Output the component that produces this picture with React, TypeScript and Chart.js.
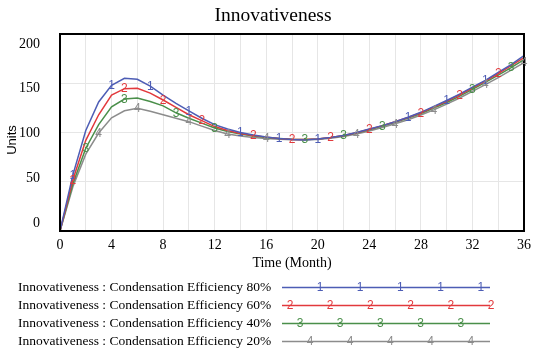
import React, { useEffect, useRef } from "react";
import { Chart, registerables } from "chart.js";

Chart.register(...registerables);

// ---- data ----
const months = [0, 1, 2, 3, 4, 5, 6, 7, 8, 9, 10, 11, 12, 13, 14, 15, 16, 17, 18, 19, 20, 21, 22, 23, 24, 25, 26, 27, 28, 29, 30, 31, 32, 33, 34, 35, 36];

const eff80 = [0, 57, 102, 131, 148, 155, 154, 147, 138, 129.5, 122, 114.5, 108, 103.5, 100, 97.5, 95.5, 94, 93, 92.5, 93.5, 95, 97, 100, 103.5, 107, 111, 115.5, 120.5, 126.5, 132.5, 139, 146, 153, 161, 169, 178];
const eff60 = [0, 52, 92, 118, 138, 144.5, 145, 140, 133, 125.5, 118, 112, 106, 102, 99, 97, 95.3, 94, 93, 92.8, 93.5, 95, 97, 99.8, 103.2, 107, 111, 115.2, 120, 125.8, 131.7, 138.3, 145.2, 152.3, 159.8, 167.8, 176];
const eff40 = [0, 48, 84, 108, 126, 134, 135, 131.5, 127, 120, 114.5, 109.5, 104.5, 101, 98.5, 96.5, 95, 94, 93.2, 93, 93.5, 94.8, 96.8, 99.5, 102.8, 106.5, 110.4, 114.6, 119.3, 124.8, 130.5, 137, 143.8, 150.8, 158.2, 165.8, 174];
const eff20 = [0, 45, 78, 99.5, 115, 122, 124.5, 121.5, 118, 114.5, 111, 106.5, 102, 98.5, 96.5, 95, 94, 93.2, 92.7, 92.6, 93, 94.2, 96, 98.5, 101.6, 105, 108.8, 113, 117.8, 123, 128.8, 135, 141.8, 148.6, 155.8, 163.3, 171];

const seriesNames = [
  "Innovativeness : Condensation Efficiency 80%",
  "Innovativeness : Condensation Efficiency 60%",
  "Innovativeness : Condensation Efficiency 40%",
  "Innovativeness : Condensation Efficiency 20%",
];
const seriesValues = [eff80, eff60, eff40, eff20];
const seriesColors = ["#4d5db5", "#e2393c", "#4a8f4a", "#8c8c8c"];
const markerTags = ["1", "2", "3", "4"];
// month indices where each series shows its number marker
const markers80 = [1, 4, 7, 10, 14, 17, 20, 27, 30, 33];
const markers60 = [1, 5, 8, 11, 15, 18, 21, 24, 28, 31, 34];
const markers40 = [2, 5, 9, 12, 19, 22, 25, 32, 35];
const markers20 = [3, 6, 10, 13, 16, 23, 26, 29, 33, 36];
const markerSets = [markers80, markers60, markers40, markers20];

const xGridTicks = [0, 2, 4, 6, 8, 10, 12, 14, 16, 18, 20, 22, 24, 26, 28, 30, 32, 34, 36];
const xLabelTicks = [0, 4, 8, 12, 16, 20, 24, 28, 32, 36];
const yTicks = [0, 50, 100, 150, 200];

const titleText = "Innovativeness";
const xTitle = "Time (Month)";
const yTitle = "Units";

const SERIF = '"Liberation Serif", "Times New Roman", serif';
const SANS = '"Liberation Sans", Arial, sans-serif';

const decorPlugin = {
  id: "decor",
  afterDatasetsDraw(chart: any) {
    const { ctx, chartArea: a } = chart;
    ctx.save();
    ctx.strokeStyle = "#000";
    ctx.lineWidth = 2;
    ctx.strokeRect(a.left, a.top, a.right - a.left, a.bottom - a.top);
    ctx.font = `12px ${SANS}`;
    ctx.textAlign = "center";
    ctx.textBaseline = "middle";
    markerSets.forEach((idxs, si) => {
      const meta = chart.getDatasetMeta(si);
      ctx.fillStyle = seriesColors[si];
      idxs.forEach((i) => {
        const p = meta.data[i];
        if (p) ctx.fillText(markerTags[si], p.x, p.y + 0.5);
      });
    });
    ctx.restore();
  },
  afterDraw(chart: any) {
    const { ctx } = chart;
    ctx.save();
    // title
    ctx.fillStyle = "#000";
    ctx.font = `19.5px ${SERIF}`;
    ctx.textAlign = "center";
    ctx.textBaseline = "middle";
    ctx.fillText(titleText, 273, 16);
    // y axis title
    ctx.save();
    ctx.translate(12, 140);
    ctx.rotate(-Math.PI / 2);
    ctx.font = `13px ${SANS}`;
    ctx.fillText(yTitle, 0, 0);
    ctx.restore();
    // legend
    const rowY = [287.5, 305.5, 323.5, 341.5];
    seriesNames.forEach((name, si) => {
      const y = rowY[si];
      ctx.fillStyle = "#000";
      ctx.font = `13.5px ${SERIF}`;
      ctx.textAlign = "left";
      ctx.textBaseline = "middle";
      ctx.fillText(name, 18, y);
      ctx.strokeStyle = seriesColors[si];
      ctx.lineWidth = 1.5;
      ctx.beginPath();
      ctx.moveTo(282, y);
      ctx.lineTo(490, y);
      ctx.stroke();
      ctx.fillStyle = seriesColors[si];
      ctx.font = `12px ${SANS}`;
      ctx.textAlign = "center";
      const start = 290 + ((si + 3) % 4) * 10;
      for (let x = start; x <= 492; x += 40.2) {
        ctx.fillText(markerTags[si], x, y + 0.5);
      }
    });
    ctx.restore();
  },
};

export default function App() {
  const ref = useRef<HTMLCanvasElement | null>(null);
  useEffect(() => {
    if (!ref.current) return;
    const chart = new Chart(ref.current, {
      type: "line",
      data: {
        datasets: seriesValues.map((vals, si) => ({
          label: seriesNames[si],
          data: months.map((m, i) => ({ x: m, y: vals[i] })),
          borderColor: seriesColors[si],
          backgroundColor: seriesColors[si],
          borderWidth: 1.5,
          pointRadius: 0,
          tension: 0,
          xAxisID: "x",
          yAxisID: "y",
        })),
      },
      options: {
        animation: false,
        responsive: false,
        layout: { padding: { top: 34, right: 26, bottom: 82, left: 0 } },
        plugins: {
          legend: { display: false },
          title: { display: false },
          tooltip: { enabled: false },
        },
        scales: {
          x: {
            type: "linear",
            min: 0,
            max: 36,
            afterBuildTicks: (axis: any) => {
              axis.ticks = xGridTicks.map((v) => ({ value: v }));
            },
            afterFit: (s: any) => {
              s.height = 43;
            },
            ticks: {
              autoSkip: false,
              maxRotation: 0,
              padding: 6,
              color: "#000",
              font: { family: SERIF, size: 14 },
              callback: (v: any) => (xLabelTicks.includes(Number(v)) ? String(v) : ""),
            },
            grid: { color: "#e6e6e6", drawTicks: false },
            border: { display: false },
            title: {
              display: true,
              text: xTitle,
              color: "#000",
              font: { family: SERIF, size: 14 },
              padding: { top: 0, bottom: 2 },
            },
          },
          y: {
            type: "linear",
            position: "left",
            min: 0,
            max: 200,
            afterBuildTicks: (axis: any) => {
              axis.ticks = yTicks.map((v) => ({ value: v }));
            },
            afterFit: (s: any) => {
              s.width = 0;
            },
            ticks: { display: false },
            grid: { color: "#e6e6e6", drawTicks: false },
            border: { display: false },
          },
          yl: {
            type: "linear",
            position: "left",
            min: -8.94,
            max: 211.2,
            afterBuildTicks: (axis: any) => {
              axis.ticks = yTicks.map((v) => ({ value: v }));
            },
            afterFit: (s: any) => {
              s.width = 60;
            },
            ticks: {
              padding: 12,
              color: "#000",
              font: { family: SERIF, size: 14 },
            },
            grid: { display: false },
            border: { display: false },
          },
        },
      },
      plugins: [decorPlugin],
    } as any);
    return () => chart.destroy();
  }, []);
  return (
    <div style={{ position: "absolute", left: 0, top: 0, width: 550, height: 356, background: "#fff" }}>
      <canvas ref={ref} width={550} height={356} />
    </div>
  );
}
